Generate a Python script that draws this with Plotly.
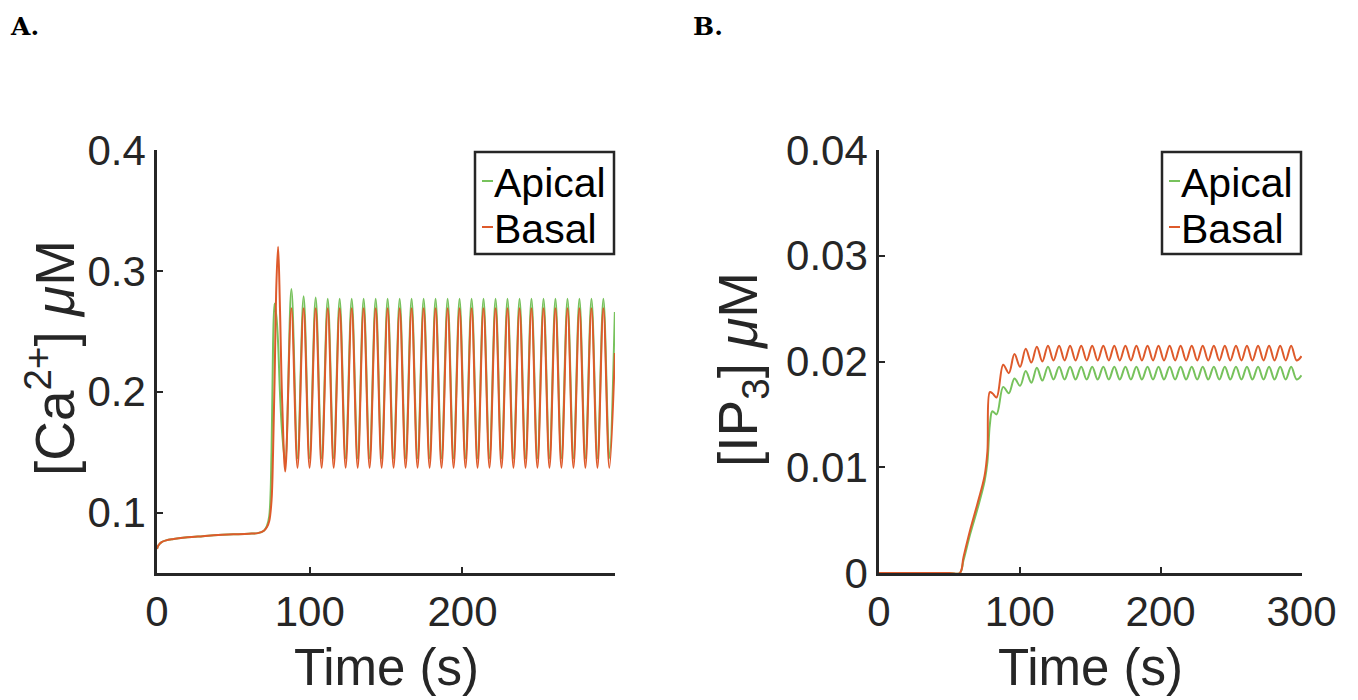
import plotly.graph_objects as go
from plotly.subplots import make_subplots

# ---- panel A: cytosolic Ca2+ (uM) vs time (s)
t_ca = [0, 1, 3, 6, 10, 20, 30, 40, 50, 60, 66, 70, 72, 73.5, 75, 76, 77, 78.2, 79.3, 80.5, 82, 84,
        88.0, 92.0, 96.0, 99.9, 103.9, 107.8, 111.8, 115.7, 119.6, 123.5, 127.5, 131.4, 135.3, 139.2,
        143.2, 147.1, 151.0, 154.9, 158.9, 162.8, 166.7, 170.6, 174.6, 178.5, 182.4, 186.3, 190.3,
        194.2, 198.1, 202.0, 206.0, 209.9, 213.8, 217.7, 221.7, 225.6, 229.5, 233.4, 237.4, 241.3,
        245.2, 249.1, 253.1, 257.0, 260.9, 264.8, 268.8, 272.7, 276.6, 280.5, 284.5, 288.4, 292.3,
        296.2, 299.8]
ca_apical = [0.070, 0.073, 0.0755, 0.077, 0.078, 0.0795, 0.0805, 0.0815, 0.082, 0.0825, 0.083, 0.085,
             0.089, 0.097, 0.15, 0.24, 0.273, 0.262, 0.24, 0.20, 0.165, 0.142,
             0.285, 0.145, 0.279, 0.145, 0.278, 0.145, 0.277, 0.145, 0.277, 0.145, 0.277, 0.145,
             0.277, 0.145, 0.277, 0.145, 0.277, 0.145, 0.277, 0.145, 0.277, 0.145, 0.277, 0.145,
             0.277, 0.145, 0.277, 0.145, 0.277, 0.145, 0.277, 0.145, 0.277, 0.145, 0.277, 0.145,
             0.277, 0.145, 0.277, 0.145, 0.277, 0.145, 0.277, 0.145, 0.277, 0.145, 0.277, 0.145,
             0.277, 0.145, 0.277, 0.145, 0.277, 0.145, 0.266]
ca_basal = [0.070, 0.073, 0.0755, 0.077, 0.078, 0.0795, 0.0805, 0.0815, 0.082, 0.0825, 0.083, 0.085,
            0.088, 0.093, 0.11, 0.15, 0.21, 0.29, 0.32, 0.27, 0.19, 0.134,
            0.269, 0.137, 0.269, 0.137, 0.269, 0.137, 0.269, 0.137, 0.269, 0.137, 0.269, 0.137,
            0.269, 0.137, 0.269, 0.137, 0.269, 0.137, 0.269, 0.137, 0.269, 0.137, 0.269, 0.137,
            0.269, 0.137, 0.269, 0.137, 0.269, 0.137, 0.269, 0.137, 0.269, 0.137, 0.269, 0.137,
            0.269, 0.137, 0.269, 0.137, 0.269, 0.137, 0.269, 0.137, 0.269, 0.137, 0.269, 0.137,
            0.269, 0.137, 0.269, 0.137, 0.269, 0.137, 0.232]

# ---- panel B: IP3 (uM) vs time (s)
t_ip3 = [0, 50, 57.4, 60, 65, 70, 75, 77, 78.7, 80.5, 83.5, 88.2, 92.2, 96.2, 100.2, 104.2, 108.2,
         112.1, 116.0, 120.0, 123.9, 127.9, 131.8, 135.7, 139.6, 143.6, 147.5, 151.4, 155.3, 159.3,
         163.2, 167.1, 171.0, 175.0, 178.9, 182.8, 186.7, 190.7, 194.6, 198.5, 202.4, 206.4, 210.3,
         214.2, 218.1, 222.1, 226.0, 229.9, 233.8, 237.8, 241.7, 245.6, 249.5, 253.5, 257.4, 261.3,
         265.2, 269.2, 273.1, 277.0, 280.9, 284.9, 288.8, 292.7, 296.6, 300.0]
ip3_apical = [0, 0, 0, 0.0012, 0.0038, 0.0061, 0.0087, 0.0105, 0.0140, 0.0153, 0.0150, 0.0176, 0.0170,
              0.0184, 0.0177, 0.0191, 0.0180, 0.0194, 0.0182, 0.0195, 0.0183, 0.0195, 0.0183, 0.0195,
              0.0183, 0.0195, 0.0183, 0.0195, 0.0183, 0.0195, 0.0183, 0.0195, 0.0183, 0.0195, 0.0183,
              0.0195, 0.0183, 0.0195, 0.0183, 0.0195, 0.0183, 0.0195, 0.0183, 0.0195, 0.0183, 0.0195,
              0.0183, 0.0195, 0.0183, 0.0195, 0.0183, 0.0195, 0.0183, 0.0195, 0.0183, 0.0195, 0.0183,
              0.0195, 0.0183, 0.0195, 0.0183, 0.0195, 0.0183, 0.0195, 0.0183, 0.0187]
ip3_basal = [0, 0, 0, 0.0015, 0.0042, 0.0066, 0.0092, 0.0115, 0.0171, 0.0170, 0.0166, 0.0197, 0.0189,
             0.0207, 0.0195, 0.0212, 0.0199, 0.0214, 0.0200, 0.0215, 0.0201, 0.0215, 0.0201, 0.0215,
             0.0201, 0.0215, 0.0201, 0.0215, 0.0201, 0.0215, 0.0201, 0.0215, 0.0201, 0.0215, 0.0201,
             0.0215, 0.0201, 0.0215, 0.0201, 0.0215, 0.0201, 0.0215, 0.0201, 0.0215, 0.0201, 0.0215,
             0.0201, 0.0215, 0.0201, 0.0215, 0.0201, 0.0215, 0.0201, 0.0215, 0.0201, 0.0215, 0.0201,
             0.0215, 0.0201, 0.0215, 0.0201, 0.0215, 0.0201, 0.0215, 0.0201, 0.0205]

ca_ticks = [0.1, 0.2, 0.3, 0.4]
ip3_ticks = [0, 0.01, 0.02, 0.03, 0.04]
time_ticks = [0, 100, 200, 300]
series_names = ["Apical", "Basal"]

GREEN = "#77c25c"
ORANGE = "#de5a2b"
INK = "#262626"
SANS = "Liberation Sans, Arial, sans-serif"

# the page body has an 8px margin, so the figure is 8px smaller and positions are offset
OFF = 8
W, H = 1358 - OFF, 700 - OFF


def px_x(x):
    return (x - OFF) / W


def px_y(y):
    return 1 - (y - OFF) / H


fig = make_subplots(rows=1, cols=2)

for col, t, ys in [(1, t_ca, [ca_apical, ca_basal]), (2, t_ip3, [ip3_apical, ip3_basal])]:
    for name, y, color in zip(series_names, ys, [GREEN, ORANGE]):
        fig.add_trace(go.Scatter(x=t, y=y, name=name, mode="lines", line_shape="spline",
                                 line=dict(color=color, width=2), showlegend=False),
                      row=1, col=col)

# plot areas in window pixels: A 157-615, B 879-1302, y 150-573
dom_y = [px_y(573), px_y(150)]
dom_a = [px_x(157), px_x(615)]
dom_b = [px_x(879), px_x(1302)]

axis_style = dict(showline=True, linecolor=INK, linewidth=2.5, ticks="inside", ticklen=6,
                  tickwidth=2, tickcolor=INK, showgrid=False, zeroline=False, mirror=False,
                  automargin=False, tickfont=dict(family=SANS, size=42, color=INK))

fig.update_xaxes(axis_style)
fig.update_yaxes(axis_style)
fig.update_xaxes(domain=dom_a, range=[0, 299.9], tickvals=time_ticks, row=1, col=1)
fig.update_xaxes(domain=dom_b, range=[0, 300.4], tickvals=time_ticks, row=1, col=2)
fig.update_yaxes(domain=dom_y, range=[0.05, 0.4], tickvals=ca_ticks,
                 ticktext=[f"{v:g}" for v in ca_ticks], row=1, col=1)
fig.update_yaxes(domain=dom_y, range=[0, 0.04], tickvals=ip3_ticks,
                 ticktext=[f"{v:g}" for v in ip3_ticks], row=1, col=2)

title_font = dict(family=SANS, size=51, color=INK)
ytitle_font = dict(family=SANS, size=55, color=INK)
label_font = dict(family="DejaVu Serif", size=25, color="black")
legend_font = dict(family=SANS, size=41, color="black")

annotations = [
    dict(text="<b>A.</b>", x=px_x(OFF), y=px_y(10), xanchor="left", yanchor="top", font=label_font),
    dict(text="<b>B.</b>", x=px_x(691), y=px_y(10), xanchor="left", yanchor="top", font=label_font),
    dict(text="[Ca<sup>2+</sup>] <i>μ</i>M", x=px_x(51), y=px_y(358), textangle=-90,
         xanchor="center", yanchor="middle", font=ytitle_font),
    dict(text="[IP<sub>3</sub>] <i>μ</i>M", x=px_x(742), y=px_y(370), textangle=-90,
         xanchor="center", yanchor="middle", font=ytitle_font),
    dict(text="Time (s)", x=px_x(386), y=px_y(667), xanchor="center", yanchor="middle",
         font=title_font),
    dict(text="Time (s)", x=px_x(1090), y=px_y(667), xanchor="center", yanchor="middle",
         font=title_font),
]
shapes = []

# boxed legend in the top right corner of each panel (MATLAB style, short line samples)
for right in [615, 1302]:
    x0, x1 = right - 140, right - 1
    shapes.append(dict(type="rect", x0=px_x(x0), x1=px_x(x1), y0=px_y(254), y1=px_y(152),
                       xref="paper", yref="paper", line=dict(color=INK, width=2.5),
                       fillcolor="white", layer="above"))
    for name, color, yc in zip(series_names, [GREEN, ORANGE], [181, 227]):
        shapes.append(dict(type="line", x0=px_x(x0 + 7), x1=px_x(x0 + 18), y0=px_y(yc), y1=px_y(yc),
                           xref="paper", yref="paper", line=dict(color=color, width=2),
                           layer="above"))
        annotations.append(dict(text=name, x=px_x(x0 + 17), y=px_y(yc + 2), xanchor="left",
                                yanchor="middle", font=legend_font))

for a in annotations:
    a.update(xref="paper", yref="paper", showarrow=False)

fig.update_layout(
    width=W, height=H,
    margin=dict(l=0, r=0, t=0, b=0),
    paper_bgcolor="white", plot_bgcolor="white",
    showlegend=False,
    annotations=annotations,
    shapes=shapes,
)

fig.write_html("out.html")
